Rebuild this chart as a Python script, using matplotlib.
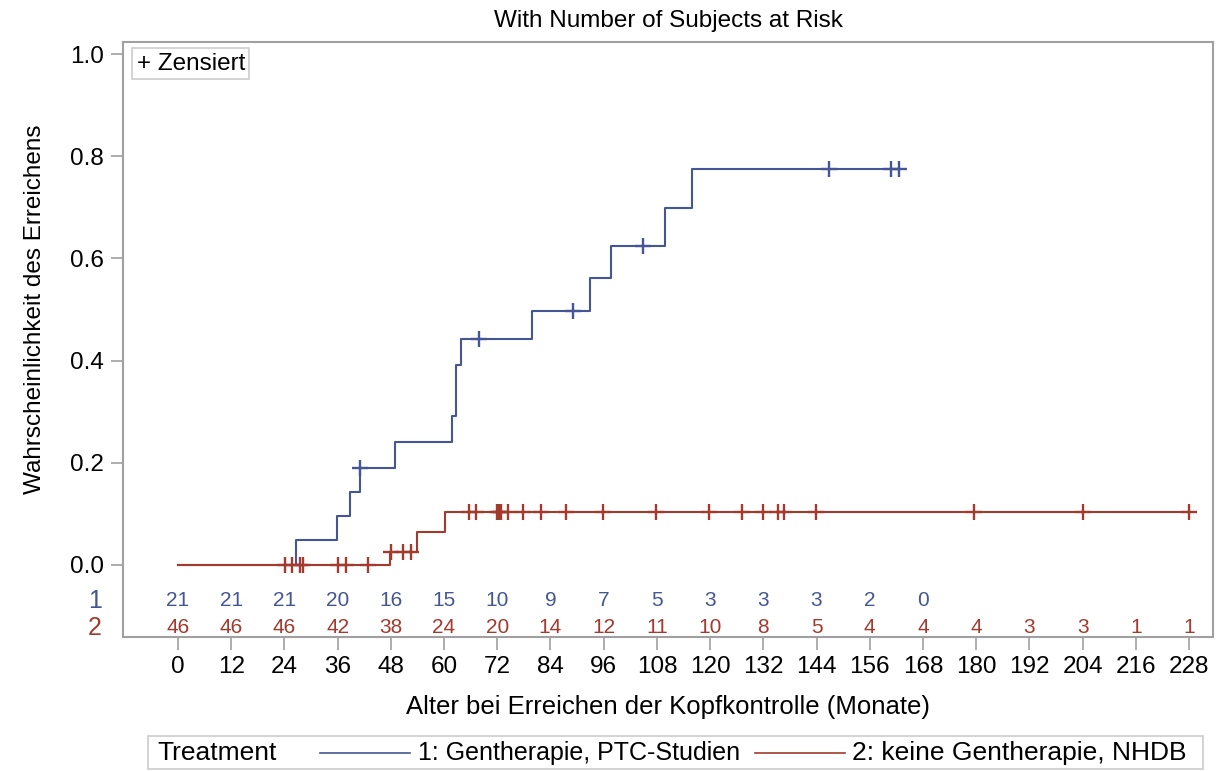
import numpy as np
import matplotlib
matplotlib.use("Agg")
import matplotlib.pyplot as plt
from matplotlib.lines import Line2D
from matplotlib.patches import Rectangle
import matplotlib.transforms as mtransforms

plt.rcParams['font.family'] = ['Liberation Sans', 'DejaVu Sans']

# group 1: Gentherapie, PTC-Studien
t1_event = [26.6, 35.8, 38.9, 41.0, 48.9, 61.9, 62.8, 63.8, 79.9, 92.9, 97.7, 109.9, 115.8]
p1_event = [0.048, 0.095, 0.143, 0.190, 0.240, 0.292, 0.391, 0.442, 0.498, 0.562, 0.624, 0.699, 0.774]
t1_cens = [41.0, 67.9, 89.0, 104.8, 146.8, 160.8, 162.7]

# group 2: keine Gentherapie, NHDB
t2_event = [47.8, 54.0, 60.2]
p2_event = [0.026, 0.064, 0.104]
t2_cens = [24.2, 25.8, 27.5, 28.1, 36.0, 37.8, 42.9, 48.0, 50.8, 52.5,
           65.7, 67.2, 71.9, 72.3, 72.8, 74.5, 77.7, 81.8, 87.6, 95.8,
           107.8, 119.8, 127.1, 131.9, 135.4, 136.6, 143.8, 179.6, 204.0, 228.0]

risk_times = list(range(0, 229, 12))
risk1 = [21, 21, 21, 20, 16, 15, 10, 9, 7, 5, 3, 3, 3, 2, 0]
risk2 = [46, 46, 46, 42, 38, 24, 20, 14, 12, 11, 10, 8, 5, 4, 4, 4, 3, 3, 1, 1]

blue = '#445694'
red = '#A23A2E'
grey = '#a0a0a0'


def km_steps(t_ev, p_ev, t_end):
    x = [0] + list(t_ev) + [t_end]
    y = [0] + list(p_ev) + [p_ev[-1]]
    return x, y


def level_at(t, t_ev, p_ev):
    v = 0.0
    for te, pe in zip(t_ev, p_ev):
        if te <= t:
            v = pe
    return v


fig = plt.figure(figsize=(12.17, 7.71), dpi=100)
ax = fig.add_axes([123 / 1217, 1 - 637 / 771, 1090 / 1217, 595 / 771])

x1, y1 = km_steps(t1_event, p1_event, max(t1_cens))
x2, y2 = km_steps(t2_event, p2_event, max(t2_cens))
ax.step(x1, y1, where='post', color=blue, lw=1.5)
ax.step(x2, y2, where='post', color=red, lw=1.5)

c1 = [level_at(t, t1_event, p1_event) for t in t1_cens]
c2 = [level_at(t, t2_event, p2_event) for t in t2_cens]
ax.plot(t1_cens, c1, ls='none', marker='+', ms=12, mew=1.7, color=blue)
ax.plot(t2_cens, c2, ls='none', marker='+', ms=12, mew=1.7, color=red)

# number at risk
for t, n in zip(risk_times, risk1):
    ax.text(t, -0.0705, str(n), color=blue, fontsize=15, ha='center', va='center')
for t, n in zip(risk_times, risk2):
    ax.text(t, -0.1233, str(n), color=red, fontsize=15, ha='center', va='center')
trans = mtransforms.blended_transform_factory(ax.transAxes, ax.transData)
ax.text(-0.0257, -0.0705, '1', color=blue, fontsize=18, ha='center', va='center', transform=trans)
ax.text(-0.0257, -0.1233, '2', color=red, fontsize=18, ha='center', va='center', transform=trans)

ax.set_xlim(-12.4, 233.4)
ax.set_ylim(-0.141, 1.0235)
ax.set_xticks(risk_times)
ax.set_yticks([0.0, 0.2, 0.4, 0.6, 0.8, 1.0])
ax.set_yticklabels(['0.0', '0.2', '0.4', '0.6', '0.8', '1.0'])
ax.tick_params(axis='both', direction='out', length=9, width=1.2, color=grey,
               labelsize=17.5, pad=5)
for s in ax.spines.values():
    s.set_color(grey)
    s.set_linewidth(1.5)

ax.set_xlabel('Alter bei Erreichen der Kopfkontrolle (Monate)', fontsize=18.5, labelpad=12)
ax.set_ylabel('Wahrscheinlichkeit des Erreichens', fontsize=17.5)
ax.yaxis.set_label_coords(-0.071, 0.55)
ax.set_title('With Number of Subjects at Risk', fontsize=17.5, pad=11)

ax.text(0.0125, 0.982, '+ Zensiert', transform=ax.transAxes, fontsize=17.5, va='top', ha='left',
        bbox=dict(boxstyle='square,pad=0.18', fc='white', ec='#cccccc', lw=1.2))

# bottom legend
fig.patches.append(Rectangle((148 / 1217, 2 / 771), 1055 / 1217, 33 / 771,
                             transform=fig.transFigure, fill=False, ec='#cccccc', lw=1.2))
ly = 18 / 771
fig.text(157 / 1217, ly, 'Treatment', fontsize=19, va='center', ha='left')
fig.lines.append(Line2D([320 / 1217, 410 / 1217], [ly, ly], transform=fig.transFigure, color=blue, lw=1.2))
fig.text(418 / 1217, ly, '1: Gentherapie, PTC-Studien', fontsize=18, va='center', ha='left')
fig.lines.append(Line2D([755 / 1217, 845 / 1217], [ly, ly], transform=fig.transFigure, color=red, lw=1.2))
fig.text(852 / 1217, ly, '2: keine Gentherapie, NHDB', fontsize=19, va='center', ha='left')

fig.savefig('out.png', dpi=100)
